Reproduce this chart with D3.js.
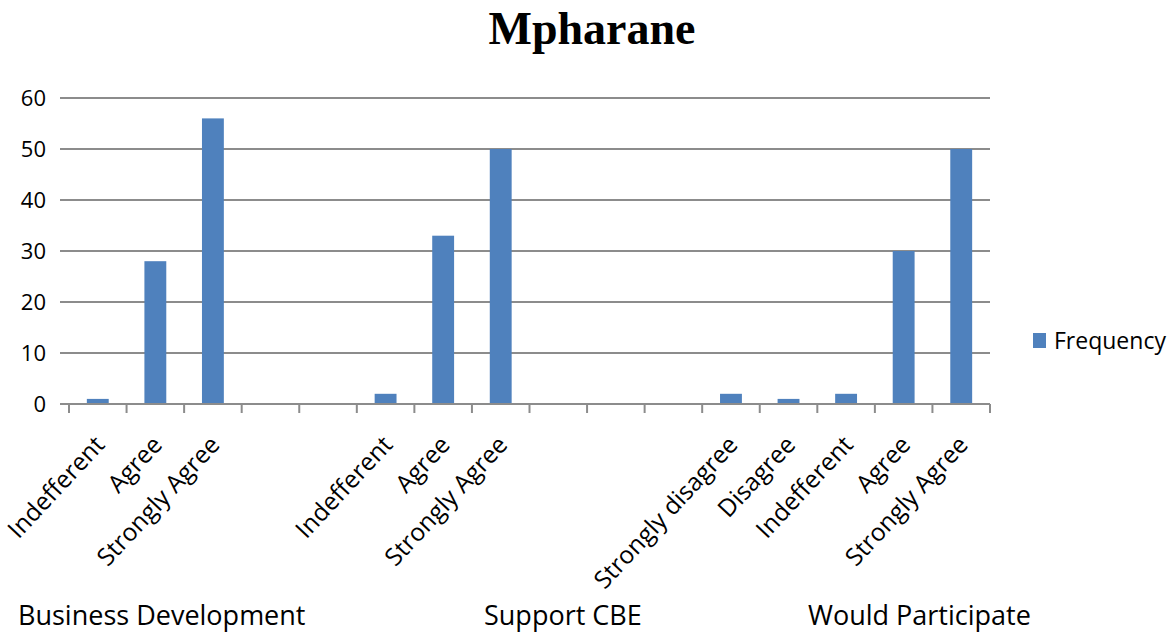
<!DOCTYPE html>
<html>
<head>
<meta charset="utf-8">
<script src="https://cdn.jsdelivr.net/npm/d3@7"></script>
<style>
  html, body { margin: 0; padding: 0; background: #fff; }
  svg { display: block; }
</style>
</head>
<body>
<svg id="chart" width="1171" height="635"></svg>
<script>
// Response categories along the x axis (blank slots separate the three questions)
const categories = [
  "Indefferent", "Agree", "Strongly Agree", "", "",
  "Indefferent", "Agree", "Strongly Agree", "", "", "",
  "Strongly disagree", "Disagree", "Indefferent", "Agree", "Strongly Agree"
];
// Frequency per category (null = empty slot)
const frequency = [1, 28, 56, null, null, 2, 33, 50, null, null, null, 2, 1, 2, 30, 50];
// Question groups shown below the category labels
const groups = ["Business Development", "Support CBE", "Would Participate"];
const groupLabelX = [18, 484, 808];
const yTicks = [0, 10, 20, 30, 40, 50, 60];
const title = "Mpharane";
const seriesName = "Frequency";

const svg = d3.select("#chart");
const barColor = "#4F81BD";
const gridColor = "#8c8c8c";
const font = "'Open Sans', sans-serif";

const left = 69, right = 990, baseY = 404, topY = 98;

const x = d3.scaleBand()
  .domain(d3.range(categories.length))
  .range([left, right])
  .padding(0);

const y = d3.scaleLinear().domain([0, 60]).range([baseY, topY]);

// Title
svg.append("text")
  .attr("x", 592).attr("y", 44)
  .attr("text-anchor", "middle")
  .attr("font-family", "'Liberation Serif', 'Times New Roman', serif")
  .attr("font-weight", "bold")
  .attr("font-size", 46)
  .attr("fill", "#000")
  .text(title);

// Horizontal gridlines
svg.append("g")
  .selectAll("line")
  .data(yTicks)
  .join("line")
  .attr("x1", 60).attr("x2", right)
  .attr("y1", d => y(d)).attr("y2", d => y(d))
  .attr("stroke", gridColor)
  .attr("stroke-width", 2);

// Y tick labels
svg.append("g")
  .selectAll("text")
  .data(yTicks)
  .join("text")
  .attr("x", 46)
  .attr("y", d => y(d))
  .attr("dy", "0.35em")
  .attr("text-anchor", "end")
  .attr("font-family", font)
  .attr("font-size", 22)
  .attr("fill", "#000")
  .text(d => d);

// Bars
const barFrac = 0.38;
svg.append("g")
  .selectAll("rect")
  .data(frequency.map((v, i) => ({ v, i })).filter(d => d.v !== null))
  .join("rect")
  .attr("x", d => x(d.i) + x.bandwidth() * (1 - barFrac) / 2)
  .attr("width", x.bandwidth() * barFrac)
  .attr("y", d => y(d.v))
  .attr("height", d => y(0) - y(d.v))
  .attr("fill", barColor);

// X axis line and tick marks at slot boundaries
svg.append("line")
  .attr("x1", 60).attr("x2", right)
  .attr("y1", baseY).attr("y2", baseY)
  .attr("stroke", gridColor).attr("stroke-width", 2);

const tickPos = d3.range(categories.length + 1).map(i => left + i * x.step());
svg.append("g")
  .selectAll("line")
  .data(tickPos)
  .join("line")
  .attr("x1", d => d).attr("x2", d => d)
  .attr("y1", baseY).attr("y2", baseY + 9)
  .attr("stroke", gridColor).attr("stroke-width", 2);

// Rotated category labels
svg.append("g")
  .selectAll("text")
  .data(categories.map((c, i) => ({ c, i })).filter(d => d.c !== ""))
  .join("text")
  .attr("transform", d => `translate(${x(d.i) + x.bandwidth() / 2 + 2},${baseY + 36}) rotate(-47)`)
  .attr("text-anchor", "end")
  .attr("dy", "0.35em")
  .attr("font-family", font)
  .attr("font-size", 24.5)
  .attr("fill", "#000")
  .text(d => d.c);

// Group labels
svg.append("g")
  .selectAll("text")
  .data(groups)
  .join("text")
  .attr("x", (d, i) => groupLabelX[i])
  .attr("y", 625)
  .attr("font-family", font)
  .attr("font-size", 27)
  .attr("fill", "#000")
  .text(d => d);

// Legend
const legend = svg.append("g");
legend.append("rect")
  .attr("x", 1033).attr("y", 333)
  .attr("width", 13).attr("height", 15)
  .attr("fill", barColor);
legend.append("text")
  .attr("x", 1054).attr("y", 349)
  .attr("font-family", font)
  .attr("font-size", 23)
  .attr("fill", "#000")
  .text(seriesName);
</script>
</body>
</html>
